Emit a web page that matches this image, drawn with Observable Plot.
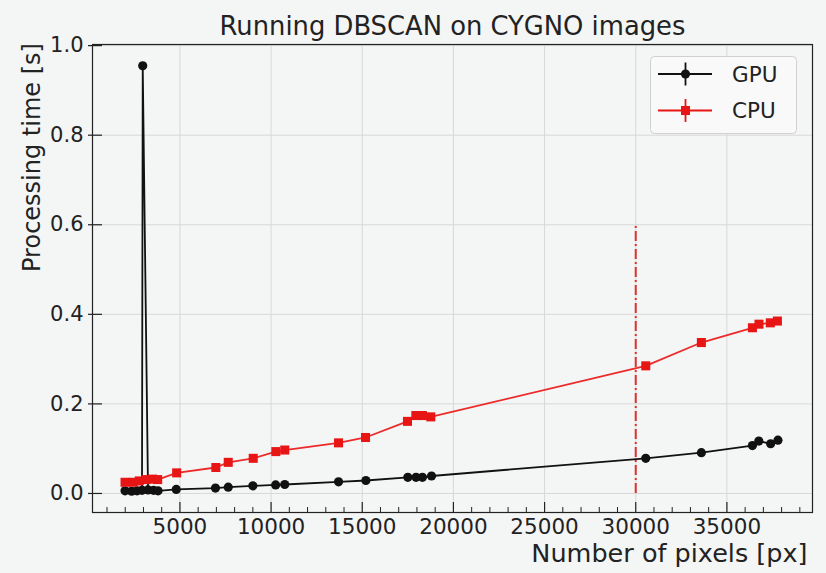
<!DOCTYPE html>
<html>
<head>
<meta charset="utf-8">
<script src="https://cdn.jsdelivr.net/npm/d3@7"></script>
<script src="https://cdn.jsdelivr.net/npm/@observablehq/plot@0.6"></script>
<style>
  html, body { margin: 0; padding: 0; background: #f4f5f5; }
  #wrap { position: relative; width: 826px; height: 573px; background: #f4f5f5; }
  #legend { position: absolute; left: 650px; top: 56px; }
</style>
</head>
<body>
<div id="wrap"></div>
<script>
// ---- data ----
const titleText = "Running DBSCAN on CYGNO images";
const xLabelText = "Number of pixels [px]";
const yLabelText = "Processing time [s]";

const gpuPixels = [1990, 2350, 2650, 2920, 2960, 3250, 3550, 3800, 4800, 6950, 7650, 9000, 10250, 10750, 13700, 15200, 17500, 17950, 18300, 18800, 30550, 33600, 36400, 36750, 37400, 37800];
const gpuTime   = [0.006, 0.005, 0.006, 0.007, 0.955, 0.008, 0.007, 0.006, 0.009, 0.012, 0.014, 0.017, 0.019, 0.020, 0.026, 0.029, 0.036, 0.036, 0.036, 0.039, 0.0785, 0.091, 0.107, 0.117, 0.111, 0.119];

const cpuPixels = [1990, 2440, 2770, 3140, 3500, 3780, 4820, 6970, 7650, 9020, 10260, 10750, 13700, 15180, 17480, 17940, 18300, 18760, 30550, 33600, 36400, 36760, 37380, 37770];
const cpuTime   = [0.025, 0.025, 0.028, 0.031, 0.032, 0.031, 0.046, 0.058, 0.0695, 0.0785, 0.0935, 0.097, 0.113, 0.125, 0.161, 0.174, 0.174, 0.171, 0.285, 0.337, 0.370, 0.378, 0.381, 0.385];

const thresholdPixels = [30000];
const thresholdTop = 0.6;

const xMajorTicks = [5000, 10000, 15000, 20000, 25000, 30000, 35000];
const xMinorTicks = [1000, 2000, 3000, 4000, 6000, 7000, 8000, 9000, 11000, 12000, 13000, 14000, 16000, 17000, 18000, 19000, 21000, 22000, 23000, 24000, 26000, 27000, 28000, 29000, 31000, 32000, 33000, 34000, 36000, 37000, 38000, 39000];
const yMajorTicks = [0.0, 0.2, 0.4, 0.6, 0.8, 1.0];

const seriesNames = ["GPU", "CPU"];
const seriesColors = ["#111111", "#e81515"];

// ---- build tables ----
const gpu = gpuPixels.map((x, i) => ({x, y: gpuTime[i]}));
const cpu = cpuPixels.map((x, i) => ({x, y: cpuTime[i]}));

const W = 826, H = 573;
const mL = 92, mR = 14, mT = 44, mB = 61;
const plotH = H - mT - mB;
const plotW = W - mL - mR;
const font = "DejaVu Sans, sans-serif";

const chart = Plot.plot({
  width: W, height: H,
  marginLeft: mL, marginRight: mR, marginTop: mT, marginBottom: mB,
  style: {background: "#f4f5f5", fontFamily: font, fontSize: "21px", color: "#222", overflow: "visible"},
  x: {domain: [205, 39695]},
  y: {domain: [-0.0425, 1.0025]},
  marks: [
    Plot.gridX(xMajorTicks, {stroke: "#d8d8d8", strokeOpacity: 1, strokeWidth: 1}),
    Plot.gridY(yMajorTicks, {stroke: "#d8d8d8", strokeOpacity: 1, strokeWidth: 1}),
    Plot.ruleX(thresholdPixels, {y1: 0, y2: thresholdTop, stroke: "#dd3030", strokeWidth: 2, strokeDasharray: "10,3,2,3"}),
    Plot.line(gpu, {x: "x", y: "y", stroke: seriesColors[0], strokeWidth: 1.8}),
    Plot.dot(gpu, {x: "x", y: "y", r: 4.6, fill: seriesColors[0], stroke: "none"}),
    Plot.line(cpu, {x: "x", y: "y", stroke: "#ec2a2a", strokeWidth: 1.8}),
    Plot.dot(cpu, {x: "x", y: "y", r: 5.1, symbol: "square", fill: seriesColors[1], stroke: "none"}),
    // inward ticks
    Plot.ruleX(xMajorTicks, {insetTop: plotH - 10, stroke: "#222", strokeWidth: 1.2}),
    Plot.ruleX(xMinorTicks, {insetTop: plotH - 5, stroke: "#222", strokeWidth: 1}),
    Plot.ruleY(yMajorTicks, {insetLeft: -4, insetRight: plotW - 10, stroke: "#222", strokeWidth: 1.2}),
    Plot.frame({stroke: "#222", strokeWidth: 1.2}),
    // tick labels
    Plot.axisX({ticks: xMajorTicks, tickSize: 0, tickPadding: 6, tickFormat: d3.format("d"), label: null, fontSize: 21.5}),
    Plot.axisY({ticks: yMajorTicks, tickSize: 0, tickPadding: 9, tickFormat: d3.format(".1f"), label: null, fontSize: 21}),
    // texts
    Plot.text([titleText], {frameAnchor: "top", lineAnchor: "bottom", dy: -10, fontSize: 25.8, fill: "#222"}),
    Plot.text([xLabelText], {frameAnchor: "bottom-right", textAnchor: "end", lineAnchor: "bottom", dx: -5, dy: 49, fontSize: 25.5, fill: "#222"}),
    Plot.text([yLabelText], {frameAnchor: "top-left", rotate: -90, textAnchor: "middle", lineAnchor: "middle", dx: -60, dy: 113, fontSize: 24, fill: "#222"})
  ]
});

const wrap = document.getElementById("wrap");
wrap.appendChild(chart);

// ---- legend ----
const ns = "http://www.w3.org/2000/svg";
const lg = document.createElementNS(ns, "svg");
lg.setAttribute("id", "legend");
lg.setAttribute("width", 150);
lg.setAttribute("height", 80);
lg.style.fontFamily = font;
function el(tag, attrs, parent) {
  const e = document.createElementNS(ns, tag);
  for (const k in attrs) e.setAttribute(k, attrs[k]);
  (parent || lg).appendChild(e);
  return e;
}
el("rect", {x: 0.5, y: 0.5, width: 146, height: 77, rx: 4, fill: "#f9f9f9", stroke: "#d0d0d0", "stroke-width": 1});
seriesNames.forEach((name, i) => {
  const cy = 18 + i * 36.5;
  const c = seriesColors[i];
  el("line", {x1: 8, x2: 62, y1: cy, y2: cy, stroke: c, "stroke-width": 1.8});
  el("line", {x1: 35.5, x2: 35.5, y1: cy - 11.5, y2: cy + 11.5, stroke: c, "stroke-width": 1.8});
  if (i === 0) el("circle", {cx: 35.5, cy, r: 4.6, fill: c});
  else el("rect", {x: 31, y: cy - 4.5, width: 9, height: 9, fill: c});
  const t = el("text", {x: 82, y: cy + 7.5, "font-size": 21.5, fill: "#222"});
  t.textContent = name;
});
wrap.appendChild(lg);
</script>
</body>
</html>
